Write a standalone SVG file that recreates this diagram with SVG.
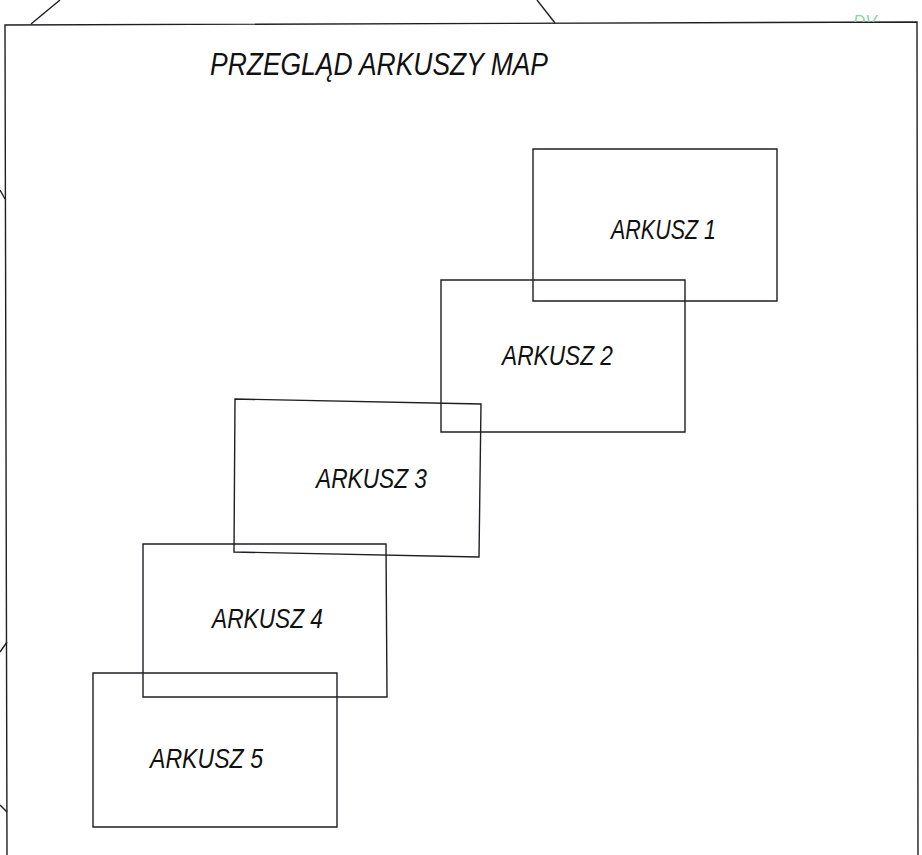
<svg xmlns="http://www.w3.org/2000/svg" width="922" height="855" viewBox="0 0 922 855">
<style>
.ln{fill:none;stroke:#1e1e24;stroke-width:1.4;stroke-linejoin:miter}
.lbl{font-family:"Liberation Sans",Arial,sans-serif;font-style:italic;fill:#111;font-size:27px}
.ttl{font-family:"Liberation Sans",Arial,sans-serif;font-style:italic;fill:#111;font-size:31px}
</style>
<defs>
<clipPath id="topclip"><rect x="0" y="0" width="922" height="22"/></clipPath>
</defs>
<rect width="922" height="855" fill="#ffffff"/>
<g id="frame">
<path class="ln" d="M7,855 L5,25 L917,22 L918,855"/>
<line class="ln" x1="31" y1="24" x2="60" y2="0"/>
<line class="ln" x1="555" y1="23" x2="537" y2="0"/>
<line class="ln" x1="0" y1="190" x2="5" y2="199"/>
<line class="ln" x1="0" y1="652" x2="7" y2="642"/>
<line class="ln" x1="0" y1="805" x2="7" y2="812"/>
<text x="853" y="27" clip-path="url(#topclip)" font-family="Liberation Sans, Arial, sans-serif" font-style="italic" font-size="17" fill="#8ed6a0">DV</text>
</g>
<g id="title">
<text class="ttl" x="210" y="75" textLength="338" lengthAdjust="spacingAndGlyphs">PRZEGLĄD ARKUSZY MAP</text>
</g>
<g id="sheet5">
<path class="ln" d="M93,673 L337,673 L337,827 L93,827 Z"/>
<text class="lbl" x="150" y="768" textLength="113" lengthAdjust="spacingAndGlyphs">ARKUSZ 5</text>
</g>
<g id="sheet4">
<path class="ln" d="M143,544 L386,544 L387,697 L143,697 Z"/>
<text class="lbl" x="212" y="628" textLength="111" lengthAdjust="spacingAndGlyphs">ARKUSZ 4</text>
</g>
<g id="sheet3">
<path class="ln" d="M235,399 L481,404 L479,557 L234,552 Z"/>
<text class="lbl" x="316" y="488" textLength="111" lengthAdjust="spacingAndGlyphs">ARKUSZ 3</text>
</g>
<g id="sheet2">
<path class="ln" d="M441,280 L685,280 L685,432 L441,432 Z"/>
<text class="lbl" x="502" y="365" textLength="111" lengthAdjust="spacingAndGlyphs">ARKUSZ 2</text>
</g>
<g id="sheet1">
<path class="ln" d="M533,149 L777,149 L777,301 L533,301 Z"/>
<text class="lbl" x="611" y="239" textLength="105" lengthAdjust="spacingAndGlyphs">ARKUSZ 1</text>
</g>
</svg>
